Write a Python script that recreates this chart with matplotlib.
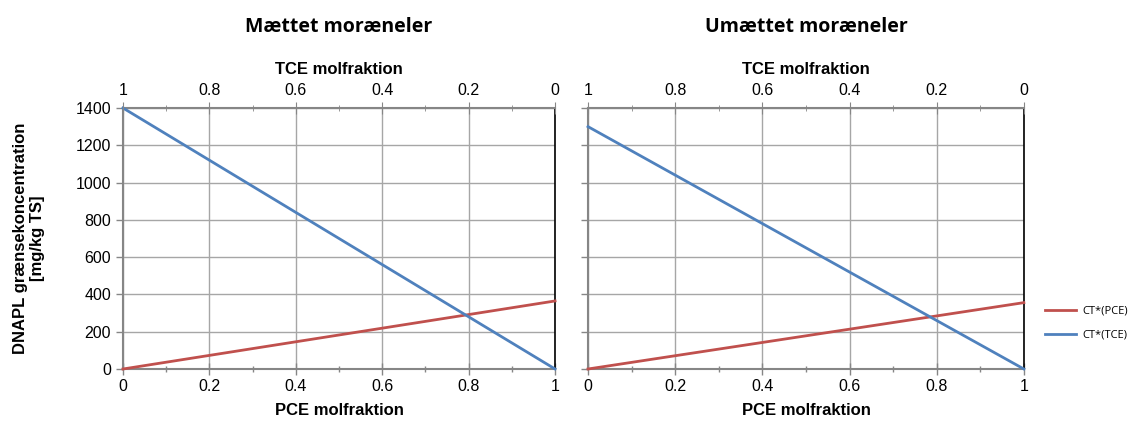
import matplotlib
matplotlib.use("Agg")
import matplotlib.pyplot as plt
from matplotlib.ticker import MultipleLocator

# data
pce_frac = [0, 1]
titles = ["Mættet moræneler", "Umættet moræneler"]
ct_pce = [[0, 365], [0, 356]]
ct_tce = [[1400, 0], [1300, 0]]
series_names = ["CT*(PCE)", "CT*(TCE)"]
colors = ["#c0504d", "#4f81bd"]

plt.rcParams['font.family'] = ['Liberation Sans', 'DejaVu Sans']

fig = plt.figure(figsize=(11.44, 4.21), dpi=100)
positions = [[0.1075, 0.1235, 0.3777, 0.62], [0.514, 0.1235, 0.381, 0.62]]
grey = "#868686"

lines = []
for i in range(2):
    ax = fig.add_axes(positions[i])
    l1, = ax.plot(pce_frac, ct_pce[i], color=colors[0], lw=2, zorder=3, clip_on=False)
    l2, = ax.plot(pce_frac, ct_tce[i], color=colors[1], lw=2, zorder=3, clip_on=False)
    lines = [l1, l2]
    ax.set_xlim(0, 1)
    ax.set_ylim(0, 1400)
    ax.xaxis.set_major_locator(MultipleLocator(0.2))
    ax.xaxis.set_minor_locator(MultipleLocator(0.1))
    ax.yaxis.set_major_locator(MultipleLocator(200))
    ax.set_xticks([0, 0.2, 0.4, 0.6, 0.8, 1])
    ax.set_xticklabels(["0", "0.2", "0.4", "0.6", "0.8", "1"])
    ax.grid(True, color="#a6a6a6", lw=1)
    ax.set_axisbelow(True)
    for s in ["left", "bottom", "top"]:
        ax.spines[s].set_color(grey)
        ax.spines[s].set_linewidth(1.5)
    ax.spines["right"].set_color("black")
    ax.spines["right"].set_linewidth(1.2)
    ax.tick_params(which="both", direction="inout", color=grey, labelsize=11.5)
    ax.tick_params(which="major", length=8, width=1)
    ax.tick_params(which="minor", length=5, width=1)
    ax.tick_params(axis="y", direction="out", length=5)
    ax.set_xlabel("PCE molfraktion", fontweight="bold", fontsize=12, labelpad=6)
    if i == 0:
        ax.set_ylabel("DNAPL grænsekoncentration\n[mg/kg TS]", fontweight="bold",
                      fontsize=12, labelpad=22)
    else:
        ax.set_yticklabels([])

    top = ax.twiny()
    top.set_xlim(1, 0)
    top.xaxis.set_major_locator(MultipleLocator(0.2))
    top.xaxis.set_minor_locator(MultipleLocator(0.1))
    top.set_xticks([1, 0.8, 0.6, 0.4, 0.2, 0])
    top.set_xticklabels(["1", "0.8", "0.6", "0.4", "0.2", "0"])
    top.tick_params(which="both", direction="inout", color=grey, labelsize=11.5)
    top.tick_params(which="major", length=8)
    top.tick_params(which="minor", length=5)
    for s in top.spines.values():
        s.set_visible(False)
    top.set_xlabel("TCE molfraktion", fontweight="bold", fontsize=12, labelpad=6)

    x_c = positions[i][0] + positions[i][2] / 2
    fig.text(x_c, 0.935, titles[i], ha="center", va="center", fontsize=14,
             fontweight="bold", family=["Open Sans", "DejaVu Sans"])

fig.legend(lines, series_names, loc="center left", bbox_to_anchor=(0.905, 0.232),
           frameon=False, handlelength=2.8, labelspacing=1.2,
           handletextpad=0.5, prop={"family": ["Open Sans", "DejaVu Sans"], "size": 8})

fig.savefig("out.png", dpi=100)
